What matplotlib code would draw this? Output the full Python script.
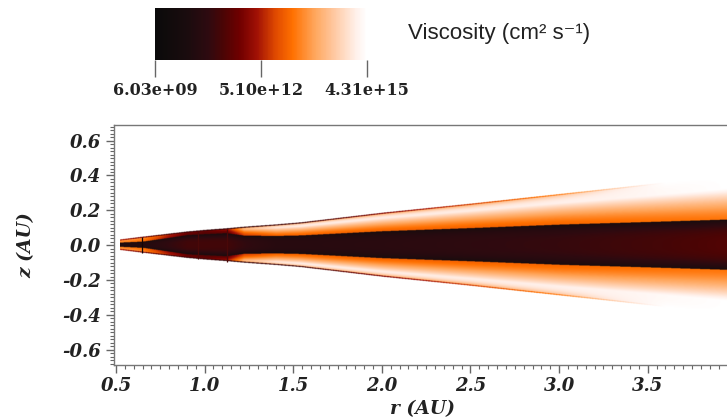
import numpy as np
import matplotlib
matplotlib.use("Agg")
import matplotlib.pyplot as plt
from matplotlib.colors import LinearSegmentedColormap, LogNorm
from matplotlib.ticker import MultipleLocator, FixedLocator
import matplotlib.colorbar as mcolorbar

plt.rcParams['axes.unicode_minus'] = False

# viscosity range of the colour scale (cm^2 s^-1)
visc_min = 6.03e9
visc_max = 4.31e15
cbar_ticks = [6.03e9, 5.10e12, 4.31e15]
cbar_labels = ['6.03e+09', '5.10e+12', '4.31e+15']

# disk structure sampled along r (AU); levels are log-scaled fractions of the colour range
r_nodes = [0.52, 0.65, 0.80, 0.90, 1.00, 1.12, 1.22, 1.40, 1.54, 2.00, 2.50, 3.00, 3.30, 3.60, 3.98]
surf_h  = [0.030, 0.046, 0.064, 0.076, 0.085, 0.094, 0.103, 0.116, 0.128, 0.183, 0.235, 0.290, 0.323, 0.357, 0.400]
core_h  = [0.012, 0.018, 0.040, 0.055, 0.060, 0.066, 0.052, 0.050, 0.053, 0.077, 0.095, 0.115, 0.124, 0.133, 0.145]
core_lv = [0.18, 0.20, 0.26, 0.30, 0.30, 0.30, 0.26, 0.22, 0.22, 0.23, 0.25, 0.27, 0.29, 0.31, 0.34]
lay_lo  = [0.68, 0.64, 0.46, 0.36, 0.33, 0.36, 0.55, 0.62, 0.62, 0.62, 0.62, 0.63, 0.64, 0.65, 0.66]
lay_hi  = [0.74, 0.70, 0.50, 0.40, 0.38, 0.46, 0.80, 0.92, 0.94, 0.94, 0.94, 0.95, 0.96, 0.98, 1.00]
rim_lv  = [0.70, 0.66, 0.48, 0.38, 0.36, 0.44, 0.66, 0.64, 0.64, 0.66, 0.70, 0.80, 0.92, 1.00, 1.00]
edge_lv = [0.50, 0.40, 0.30, 0.28, 0.28, 0.28, 0.28, 0.30, 0.30, 0.42, 0.55, 0.68, 0.85, 1.00, 1.00]

# grid seams visible in the inner disk
seam_r = [0.648, 0.964, 1.124]
seam_c = ['#150405', '#4a0808', '#4a0808']

# colour table: black -> dark red -> orange -> white
cmap = LinearSegmentedColormap.from_list('visc', [
    (0.00, '#0a0a0a'), (0.15, '#1a0c0e'), (0.25, '#2e0a10'), (0.32, '#4a0505'),
    (0.40, '#700000'), (0.48, '#a01005'), (0.57, '#e04a00'), (0.65, '#ff7000'),
    (0.75, '#ffa458'), (0.85, '#ffcaa4'), (0.95, '#fff0ea'), (1.00, '#ffffff')])
cmap.set_bad('white')

# build the viscosity map
rr = np.linspace(r_nodes[0], r_nodes[-1], 1000)
zz = np.linspace(-0.69, 0.69, 800)
R, Z = np.meshgrid(rr, zz)
az = np.abs(Z)
S = np.interp(R, r_nodes, surf_h)
C = np.interp(R, r_nodes, core_h)
CL = np.interp(R, r_nodes, core_lv)
L0 = np.interp(R, r_nodes, lay_lo)
L1 = np.interp(R, r_nodes, lay_hi)
RL = np.interp(R, r_nodes, rim_lv)
EL = np.interp(R, r_nodes, edge_lv)

lev = np.full(R.shape, np.nan)
core = az <= C
lev[core] = 0.14 + (CL[core] - 0.14) * (1 - (az[core] / C[core]) ** 3)

# surface layer: rises from the core boundary, then turns back towards the rim level
s = np.clip((az - C) / np.maximum(S - C, 1e-6), 0, 1)
s_pk = 0.7
rise = L0 + (L1 - L0) * np.clip(s / s_pk, 0, 1) ** 1.4
fall = L1 + (RL - L1) * np.clip((s - s_pk) / (1 - s_pk), 0, 1) ** 2.2
lay_val = np.where(s <= s_pk, rise, fall)
lay = (az > C) & (az <= S)
lev[lay] = lay_val[lay]
edge = (az > S - 0.006) & (az <= S)
lev[edge] = np.minimum(lev[edge], EL[edge])

lo, hi = np.log10(visc_min), np.log10(visc_max)
visc = 10 ** (lo + lev * (hi - lo))
norm = LogNorm(vmin=visc_min, vmax=visc_max)

fig = plt.figure(figsize=(7.27, 4.19), dpi=100)
ax = fig.add_axes([0.1568, 0.1289, 0.85, 0.5728])
ax.imshow(np.ma.masked_invalid(visc), cmap=cmap, norm=norm, origin='lower',
          extent=[rr[0], rr[-1], zz[0], zz[-1]], aspect='auto', interpolation='bilinear')
for r0, c in zip(seam_r, seam_c):
    h = np.interp(r0, r_nodes, surf_h)
    ax.vlines(r0, -h, h, color=c, lw=0.9)

ax.set_xlim(0.4887, 3.975)
ax.set_ylim(-0.688, 0.69)
ax.xaxis.set_major_locator(FixedLocator([0.5, 1.0, 1.5, 2.0, 2.5, 3.0, 3.5]))
ax.xaxis.set_minor_locator(MultipleLocator(0.05))
ax.yaxis.set_major_locator(FixedLocator([-0.6, -0.4, -0.2, 0.0, 0.2, 0.4, 0.6]))
ax.yaxis.set_minor_locator(MultipleLocator(0.02))
ax.set_xticklabels(['0.5', '1.0', '1.5', '2.0', '2.5', '3.0', '3.5'])
ax.set_yticklabels(['-0.6', '-0.4', '-0.2', '0.0', '0.2', '0.4', '0.6'])
ax.tick_params(which='major', direction='out', length=6, width=1, color='#666666', pad=3)
ax.tick_params(which='minor', direction='out', length=3, width=0.8, color='#666666')
for lab in ax.get_xticklabels() + ax.get_yticklabels():
    lab.set_fontfamily('DejaVu Serif')
    lab.set_fontweight('bold')
    lab.set_fontstyle('italic')
    lab.set_fontsize(13)
    lab.set_color('#222222')
for sp in ax.spines.values():
    sp.set_color('#777777')
    sp.set_linewidth(1.0)

lab_font = dict(family='DejaVu Serif', weight='bold', style='italic', size=13.5, color='#222222')
ax.set_xlabel('r (AU)', labelpad=3, **lab_font)
ax.set_ylabel('z (AU)', labelpad=20, **lab_font)

# colour bar
cax = fig.add_axes([0.2132, 0.8568, 0.2916, 0.1241])
cb = mcolorbar.ColorbarBase(cax, cmap=cmap, norm=norm, orientation='horizontal')
cb.outline.set_visible(False)
cb.set_ticks(cbar_ticks)
cb.set_ticklabels(cbar_labels)
cax.xaxis.set_minor_locator(FixedLocator([]))
cax.tick_params(which='major', length=12, width=1, color='#666666', pad=4)
for lab in cax.get_xticklabels():
    lab.set_fontfamily('DejaVu Serif')
    lab.set_fontweight('bold')
    lab.set_fontsize(11.5)
    lab.set_color('#222222')

fig.text(0.561, 0.921, 'Viscosity (cm² s⁻¹)', family=['Liberation Sans', 'DejaVu Sans'],
         fontsize=16, va='center', ha='left', color='#222222')

fig.savefig('out.png', dpi=100)
